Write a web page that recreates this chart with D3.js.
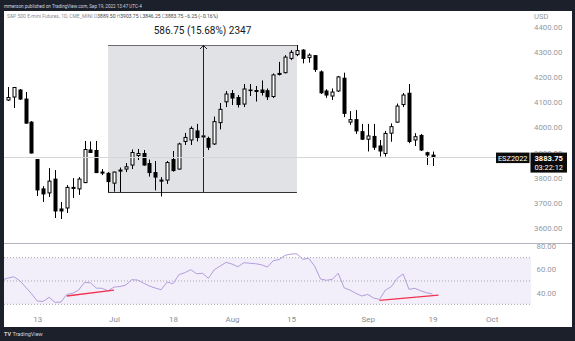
<!DOCTYPE html>
<html><head><meta charset="utf-8">
<script src="https://cdn.jsdelivr.net/npm/d3@7"></script>
<style>html,body{margin:0;padding:0;background:#1c202b;overflow:hidden}svg{display:block;font-family:Roboto,"Liberation Sans",sans-serif}</style>
</head><body><svg id="c" width="575" height="341"></svg>
<script>
const dates = ["2022-06-03","2022-06-06","2022-06-07","2022-06-08","2022-06-09","2022-06-10","2022-06-13","2022-06-14","2022-06-15","2022-06-16","2022-06-17","2022-06-21","2022-06-22","2022-06-23","2022-06-24","2022-06-27","2022-06-28","2022-06-29","2022-06-30",
"2022-07-01","2022-07-05","2022-07-06","2022-07-07","2022-07-08","2022-07-11","2022-07-12","2022-07-13","2022-07-14","2022-07-15","2022-07-18","2022-07-19","2022-07-20","2022-07-21","2022-07-22","2022-07-25","2022-07-26","2022-07-27","2022-07-28","2022-07-29",
"2022-08-01","2022-08-02","2022-08-03","2022-08-04","2022-08-05","2022-08-08","2022-08-09","2022-08-10","2022-08-11","2022-08-12","2022-08-15","2022-08-16","2022-08-17","2022-08-18","2022-08-19","2022-08-22","2022-08-23","2022-08-24","2022-08-25","2022-08-26","2022-08-29","2022-08-30","2022-08-31",
"2022-09-01","2022-09-02","2022-09-06","2022-09-07","2022-09-08","2022-09-09","2022-09-12","2022-09-13","2022-09-14","2022-09-15","2022-09-16","2022-09-19"];
const futureDates = ["2022-09-20","2022-09-21","2022-09-22","2022-09-23","2022-09-26","2022-09-27","2022-09-28","2022-09-29","2022-09-30","2022-10-03"];
const open  = [null,4109,4121,4149,4113,4021,3872,3755,3739,3794,3675,3679,3761,3755,3780,3910,3908,3822,3817,
3778,3826,3834,3850,3888,3896,3856,3820,3790,3790,3872,3834,3944,3950,3986,3966,3956,3934,4019,4102,
4135,4119,4093,4147,4147,4149,4146,4123,4215,4218,4275,4290,4308,4278,4286,4221,4145,4125,4145,4196,4021,4031,3983,
3953,3964,3926,3896,3977,4021,4091,4136,3950,3968,3899,3889.5];
const high  = [null,4161,4161,4153,4141,4025,3874,3766,3838,3830,3703,3770,3798,3802,3946,3944,3946,3834,3822,
3824,3840,3858,3912,3914,3910,3872,3866,3802,3866,3906,3939,3978,4004,4014,3978,3963,4043,4097,4145,
4149,4129,4173,4173,4165,4187,4155,4215,4261,4288,4308,4328.25,4311,4295,4288,4227,4152,4155,4205,4218,4065,4069,4014,
4014,4014,3950,3986,4016,4095,4137,4173,3977,3974,3903,3903.75];
const low   = [null,4105,4077,4109,4015,3896,3727,3703,3723,3639,3635,3659,3719,3731,3778,3898,3818,3810,3741.5,
3744,3742,3822,3834,3870,3848,3804,3749,3725,3775,3824,3832,3930,3930,3944,3954,3910,3930,3992,4081,
4089,4079,4081,4125,4103,4127,4109,4117,4207,4215,4268,4284,4255,4258,4221,4133,4118,4109,4141,4041,4010,3974,3950,
3904,3910,3884,3884,3943,4018,4081,3937,3926,3906,3850,3846.25];
const close = [null,4119,4159,4113,4017,3898,3751,3735,3786,3667,3667,3761,3757,3794,3912,3900,3820,3818,3784,
3822,3830,3843,3900,3896,3850,3820,3802,3786,3860,3828,3934,3960,3996,3960,3962,3921,4023,4072,4133,
4117,4091,4153,4149,4143,4139,4122,4209,4211,4280,4299,4306,4275,4288,4231,4138,4129,4141,4201,4056,4031,3986,3953,
3966,3921,3906,3976,4003,4085,4129,3944,3963,3910,3890,3883.75];
const rsi = [50.8,52.5,53.6,50.4,44.8,39.2,32.8,32.5,36.0,31.7,31.9,38.5,39.4,42.2,48.8,48.5,43.9,43.7,41.6,
44.8,45.2,46.5,51.1,50.8,48.2,45.7,43.9,42.5,49.1,47.6,55.4,57.1,59.7,56.2,56.6,52.3,59.7,62.8,66.0,
64.5,62.2,65.7,65.2,64.8,63.9,62.0,67.4,68.4,72.0,73.1,73.3,68.6,69.4,62.8,51.7,50.6,51.4,56.6,44.2,42.2,39.4,37.1,
38.5,35.4,34.2,42.2,45.1,52.3,56.0,42.8,43.7,41.6,39.9,38.8];
const priceTicks = [3600,3700,3800,3900,4000,4100,4200,4300,4400];
const rsiTicks = [80,60,40];
const rsiLevels = [70,50,30];
const tickDates = ["2022-06-13","2022-07-01","2022-07-18","2022-08-01","2022-08-15","2022-09-01","2022-09-19","2022-10-03"];
const tickLabels = ["13","Jul","18","Aug","15","Sep","19","Oct"];
const measureFrom = "2022-06-30", measureTo = "2022-08-16";
const divFromDates = ["2022-06-21","2022-09-06"], divFromValues = [37.1,33.4];
const divToDates = ["2022-07-01","2022-09-20"], divToValues = [42.2,37.9];
const symbol = "ESZ2022", countdown = "03:22:12";

const svg = d3.select("#c");
const W = 575, H = 341;
const panel = {l:4, r:572, t:11, b:327};
const plotR = 531, sepY = 243.5;

svg.append("rect").attr("width",W).attr("height",H).attr("fill","#1c202b");
svg.append("rect").attr("x",panel.l).attr("y",panel.t).attr("width",panel.r-panel.l).attr("height",panel.b-panel.t).attr("fill","#ffffff");

svg.append("text").attr("x",4).attr("y",8).attr("font-size",4.6).attr("fill","#d1d4dc")
  .text("mmerson published on TradingView.com, Sep 19, 2022 13:47 UTC-4");

const x = d3.scalePoint().domain(dates.concat(futureDates)).range([1.9, 491.6]);
const y = d3.scaleLinear().domain([3600,4400]).range([227.8,27]);
const yr = d3.scaleLinear().domain([30,80]).range([304.3,246]);

const defs = svg.append("defs");
defs.append("clipPath").attr("id","mainClip").append("rect").attr("x",panel.l).attr("y",panel.t).attr("width",plotR-panel.l).attr("height",sepY-panel.t);
defs.append("clipPath").attr("id","rsiClip").append("rect").attr("x",panel.l).attr("y",sepY).attr("width",plotR-panel.l).attr("height",panel.b-sepY);

const main = svg.append("g").attr("clip-path","url(#mainClip)");

// legend
const leg = svg.append("text").attr("x",7).attr("y",18).attr("font-size",5).attr("fill","#8a8d96");
leg.append("tspan").text("S&P 500 E-mini Futures, 1D, CME_MINI  O");
leg.append("tspan").attr("fill","#444").text(d3.format(".2f")(open[open.length-1]));
leg.append("tspan").text(" H");
leg.append("tspan").attr("fill","#444").text(d3.format(".2f")(high[high.length-1]));
leg.append("tspan").text(" L");
leg.append("tspan").attr("fill","#444").text(d3.format(".2f")(low[low.length-1]));
leg.append("tspan").text(" C");
leg.append("tspan").attr("fill","#444").text(d3.format(".2f")(close[close.length-1]));
const prevClose = close[close.length-2];
const chg = close[close.length-1]-prevClose;
leg.append("tspan").attr("fill","#444").text(" " + d3.format(".2f")(chg).replace("-","−") + " (" + d3.format(".2f")(chg/prevClose*100).replace("-","−") + "%)");

// measure box
const iFrom = dates.indexOf(measureFrom), iTo = dates.indexOf(measureTo);
const mLow = low[iFrom], mHigh = high[iTo];
const bx0 = x(measureFrom), bx1 = x(measureTo);
main.append("rect").attr("x",bx0).attr("y",y(mHigh)).attr("width",bx1-bx0).attr("height",y(mLow)-y(mHigh)).attr("fill","#e1e2e5");
main.append("line").attr("x1",bx0).attr("x2",bx1).attr("y1",Math.round(y(mHigh))+0.5).attr("y2",Math.round(y(mHigh))+0.5).attr("stroke","#6b6b6b").attr("stroke-width",1);
main.append("line").attr("x1",bx0).attr("x2",bx1).attr("y1",Math.round(y(mLow))+0.5).attr("y2",Math.round(y(mLow))+0.5).attr("stroke","#333").attr("stroke-width",1);

// last price line
const lastY = Math.round(y(close[close.length-1]))+0.5;
svg.append("line").attr("x1",panel.l).attr("x2",496).attr("y1",lastY).attr("y2",lastY).attr("stroke","#d6d6d9").attr("stroke-width",1);

// candles
const cand = main.append("g");
dates.forEach((d,i)=>{
  if(open[i]==null) return;
  const cx = Math.round(x(d));
  const up = close[i] >= open[i];
  cand.append("line").attr("x1",cx+0.5).attr("x2",cx+0.5).attr("y1",y(high[i])).attr("y2",y(low[i])).attr("stroke","#000").attr("stroke-width",1);
  const top = Math.min(y(open[i]),y(close[i])), bot = Math.max(y(open[i]),y(close[i]));
  cand.append("rect").attr("x",cx-1).attr("width",3).attr("y",top).attr("height",Math.max(bot-top,0.6))
    .attr("fill",up?"#ffffff":"#000").attr("stroke","#000").attr("stroke-width",1);
});

// arrow
const ax = Math.round((bx0+bx1)/2)+0.5;
main.append("line").attr("x1",ax).attr("x2",ax).attr("y1",y(mLow)).attr("y2",y(mHigh)).attr("stroke","#222").attr("stroke-width",1);
main.append("path").attr("d",`M${ax-3.5},${y(mHigh)+4}L${ax},${y(mHigh)+0.5}L${ax+3.5},${y(mHigh)+4}`).attr("fill","none").attr("stroke","#222").attr("stroke-width",1);
const diff = mHigh-mLow;
svg.append("text").attr("x",(bx0+bx1)/2).attr("y",34).attr("text-anchor","middle").attr("font-size",10).attr("fill","#131722")
  .text(d3.format(".2f")(diff)+" ("+d3.format(".2f")(diff/mLow*100)+"%) "+Math.round(diff/0.25));

// price axis
svg.append("text").attr("x",534).attr("y",19).attr("font-size",7.6).attr("fill","#9598a1").text("USD");
const pAxis = svg.append("g").attr("transform",`translate(${plotR},0)`)
  .call(d3.axisRight(y).tickValues(priceTicks).tickSize(0).tickPadding(3).tickFormat(d3.format(".2f")));
pAxis.select(".domain").remove();
pAxis.selectAll("text").attr("font-size",7.8).attr("fill","#9598a1").attr("font-family","Roboto,sans-serif");

// last price labels
const ly = y(close[close.length-1]);
svg.append("rect").attr("x",496).attr("y",ly-4).attr("width",33.5).attr("height",10.5).attr("fill","#0b0b0b");
svg.append("text").attr("x",512.7).attr("y",ly+4.3).attr("text-anchor","middle").attr("font-size",7.4).attr("fill","#fff").text(symbol);
svg.append("rect").attr("x",530.5).attr("y",ly-4).attr("width",36.5).attr("height",20).attr("fill","#0b0b0b");
svg.append("text").attr("x",548.7).attr("y",ly+4.3).attr("text-anchor","middle").attr("font-size",7.6).attr("font-weight","bold").attr("fill","#fff").text(d3.format(".2f")(close[close.length-1]));
svg.append("text").attr("x",548.7).attr("y",ly+13.5).attr("text-anchor","middle").attr("font-size",7.4).attr("fill","#fff").text(countdown);

// RSI pane
const rsiG = svg.append("g").attr("clip-path","url(#rsiClip)");
rsiG.append("rect").attr("x",panel.l).attr("y",yr(70)).attr("width",plotR-panel.l).attr("height",yr(30)-yr(70)).attr("fill","#f2effa");
rsiLevels.forEach(v=>{
  rsiG.append("line").attr("x1",panel.l).attr("x2",plotR).attr("y1",yr(v)).attr("y2",yr(v)).attr("stroke","#a5a7ae").attr("stroke-width",1).attr("stroke-dasharray","1,2");
});
rsiG.append("path").datum(dates).attr("fill","none").attr("stroke","#b39ddb").attr("stroke-width",1)
  .attr("d",d3.line().x(d=>x(d)).y((d,i)=>yr(rsi[i])));
divFromDates.forEach((d,i)=>{
  rsiG.append("line").attr("x1",x(d)).attr("y1",yr(divFromValues[i])).attr("x2",x(divToDates[i])).attr("y2",yr(divToValues[i]))
    .attr("stroke","#f0324f").attr("stroke-width",1.4);
});
const rAxis = svg.append("g").attr("transform",`translate(${plotR+2.5},0)`)
  .call(d3.axisRight(yr).tickValues(rsiTicks).tickSize(0).tickPadding(3).tickFormat(d3.format(".2f")));
rAxis.select(".domain").remove();
rAxis.selectAll("text").attr("font-size",7.8).attr("fill","#9598a1").attr("font-family","Roboto,sans-serif");

// pane separator (drawn over RSI label)
svg.append("rect").attr("x",plotR).attr("y",sepY-6).attr("width",panel.r-plotR).attr("height",5.5).attr("fill","#fff");
svg.append("line").attr("x1",panel.l).attr("x2",panel.r).attr("y1",sepY).attr("y2",sepY).attr("stroke","#b2b5be").attr("stroke-width",1.2);

// time axis
const tAxis = svg.append("g").attr("transform","translate(0,313)")
  .call(d3.axisBottom(x).tickValues(tickDates).tickSize(0).tickPadding(3).tickFormat((d,i)=>tickLabels[i]));
tAxis.select(".domain").remove();
tAxis.selectAll("text").attr("font-size",8).attr("fill","#8a8d96").attr("font-family","Roboto,sans-serif");

// footer logo
const ft = svg.append("text").attr("x",4).attr("y",336).attr("font-size",5.5).attr("fill","#d1d4dc");
ft.append("tspan").attr("font-weight","bold").text("TV ");
ft.append("tspan").text("TradingView");
</script></body></html>
